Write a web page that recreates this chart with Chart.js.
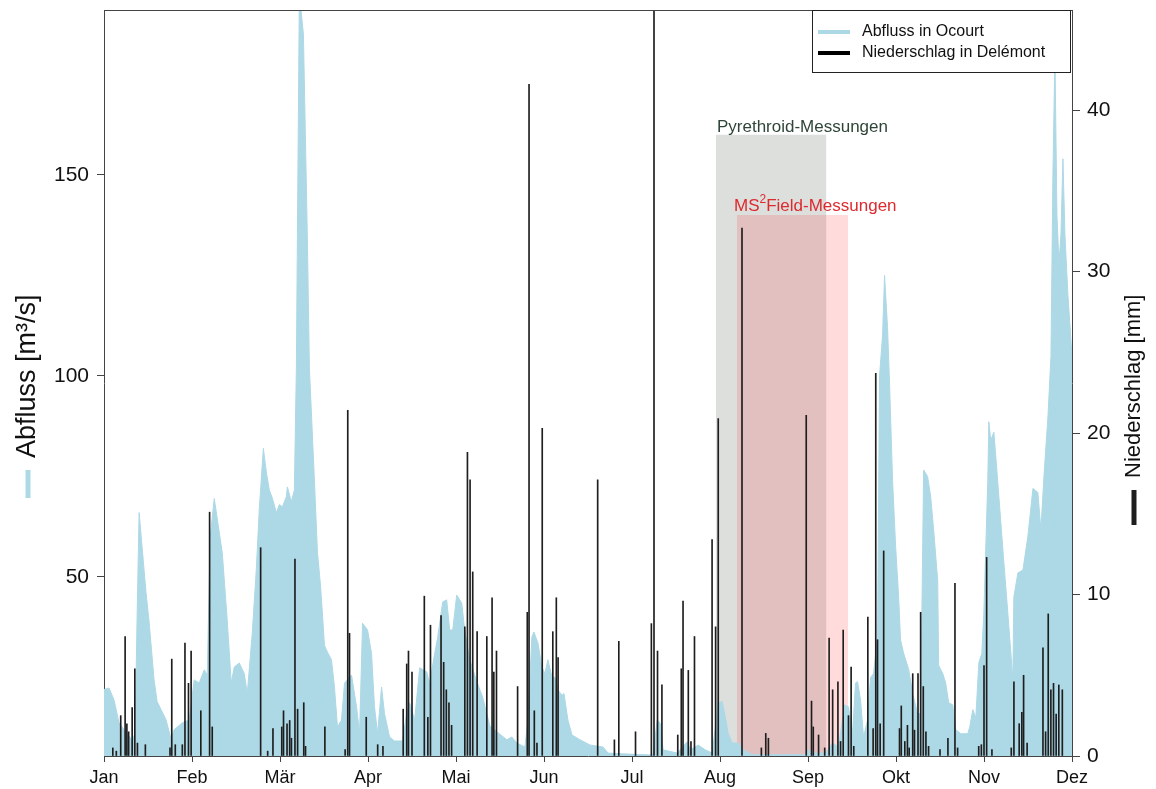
<!DOCTYPE html>
<html lang="de">
<head>
<meta charset="utf-8">
<title>Abfluss in Ocourt und Niederschlag in Delémont</title>
<script src="https://cdn.jsdelivr.net/npm/chart.js@4.4.1/dist/chart.umd.min.js"></script>
<style>
  html, body { margin: 0; padding: 0; background: #fff; }
  #wrap { width: 1156px; height: 789px; }
</style>
</head>
<body>
<div id="wrap"><canvas id="chart" width="1156" height="789"></canvas></div>
<script>
// x values are month positions (0 = 1. Jan, 11 = 1. Dez)
const monthLabels = ['Jan', 'Feb', 'Mär', 'Apr', 'Mai', 'Jun', 'Jul', 'Aug', 'Sep', 'Okt', 'Nov', 'Dez'];

// Abfluss in Ocourt [m3/s]
const flowX = [
  0.000, 0.057, 0.114, 0.171, 0.228, 0.319, 0.353, 0.376, 0.399, 0.478, 0.512, 0.569, 0.604, 0.649, 0.706, 0.763, 0.797, 0.888, 0.968,
  1.025, 1.082, 1.139, 1.173, 1.207, 1.253, 1.344, 1.401, 1.446, 1.480, 1.537, 1.594, 1.628, 1.685, 1.731, 1.765, 1.811, 1.845, 1.879, 1.913, 1.959, 1.993,
  2.027, 2.072, 2.084, 2.129, 2.163, 2.186, 2.197, 2.220, 2.266, 2.312, 2.334, 2.391, 2.426, 2.460, 2.482, 2.505, 2.539, 2.585, 2.619, 2.653, 2.699, 2.733, 2.813, 2.870, 2.904, 2.938, 2.995,
  3.040, 3.074, 3.109, 3.154, 3.188, 3.245, 3.302, 3.393, 3.439, 3.473, 3.530, 3.587, 3.667, 3.701, 3.758, 3.792, 3.849, 3.894, 3.928, 3.963,
  4.008, 4.065, 4.099, 4.156, 4.236, 4.304, 4.384, 4.464, 4.578, 4.634, 4.691, 4.783, 4.817, 4.862, 4.885, 4.931, 4.976,
  5.010, 5.044, 5.090, 5.124, 5.158, 5.204, 5.227, 5.272, 5.318, 5.409, 5.523, 5.671, 5.728, 5.898,
  6.240, 6.286, 6.320, 6.354, 6.513, 6.627, 6.662, 6.753, 6.832, 6.912, 6.980,
  7.025, 7.060, 7.094, 7.139, 7.208, 7.265, 7.367, 7.971,
  8.005, 8.062, 8.199, 8.278, 8.347, 8.415, 8.460, 8.506, 8.540, 8.563, 8.597, 8.631, 8.677, 8.711, 8.745, 8.790, 8.813, 8.847, 8.870, 8.904, 8.927, 8.961, 8.996,
  9.030, 9.052, 9.087, 9.144, 9.189, 9.246, 9.280, 9.314, 9.359, 9.394, 9.428, 9.474, 9.485, 9.531, 9.565, 9.599, 9.645, 9.679, 9.736, 9.815, 9.838, 9.873, 9.907, 9.941, 9.975, 9.998,
  10.043, 10.055, 10.077, 10.112, 10.134, 10.169, 10.226, 10.271, 10.328, 10.339, 10.385, 10.442, 10.498, 10.556, 10.612, 10.647, 10.681, 10.727, 10.761, 10.783, 10.806, 10.829, 10.852, 10.874, 10.897, 10.920, 10.954, 11.000
];
const flowY = [
  22, 22.4, 19.4, 13.7, 12, 9.5, 11, 40, 66, 46, 39, 24.4, 19, 17, 14.4, 9.5, 12, 13.7, 14.4,
  24.4, 23.6, 26.9, 25.6, 60, 69.5, 56, 39, 23.6, 27.6, 28.6, 26, 21, 36, 52, 67, 82, 76, 71.6, 69.6, 66, 68,
  67.4, 70, 72.4, 68.7, 71.6, 102, 133, 195, 185, 133, 102, 74, 56, 48, 41, 33, 31.3, 29.4, 22.6, 12.7, 14.4, 23.6, 25.6, 17.7, 11, 38.5, 36.8,
  31, 17.7, 11, 22.6, 16, 10.2, 9.2, 9.2, 16, 18.7, 14.4, 27.4, 26.4, 23.6, 31, 35, 43.8, 44.3, 36.8, 36.8,
  45.5, 43.5, 36.8, 29.4, 24, 20, 13, 11.5, 9.5, 10.2, 8.7, 7.7, 14.4, 35, 36.3, 33.6, 27.6,
  26, 29.4, 25.2, 25, 21.9, 20.6, 21, 14.4, 10.7, 9.5, 8.2, 7.7, 6.2, 6,
  5.7, 14.4, 13.7, 7, 6.2, 9, 7, 8.2, 7, 6.2, 18.7,
  19, 15.2, 11, 8.7, 8.7, 7, 5.8, 5.8,
  7, 6.2, 6.2, 8.7, 7.7, 18.2, 17.7, 11, 23.6, 24, 19.4, 10.2, 14.4, 25, 26, 35, 100, 110, 125, 112, 98, 74, 57.5,
  45, 34.3, 31, 27, 21, 16, 16, 76.6, 75, 70, 61.7, 49, 28, 26, 23.6, 18.7, 18.2, 12, 11, 11, 12.7, 17, 15, 28.6, 31, 41,
  74, 88.6, 84, 86, 80, 70, 53.5, 41, 24.4, 45, 51, 51.7, 60, 72, 71, 61.7, 75, 90, 105, 150, 180, 140, 128, 135, 154, 135, 120, 105
];

// Niederschlag in Delémont [mm]
const rainX = [
  0.10, 0.14, 0.19, 0.24, 0.26, 0.28, 0.32, 0.35, 0.38, 0.47, 0.75, 0.77, 0.81, 0.89, 0.92, 0.96, 0.99,
  1.10, 1.20, 1.23, 1.78, 1.86, 1.92,
  2.02, 2.04, 2.08, 2.11, 2.13, 2.17, 2.20, 2.27, 2.29, 2.51, 2.74, 2.77, 2.79, 2.98,
  3.11, 3.17, 3.40, 3.44, 3.46, 3.50, 3.64, 3.68, 3.71, 3.83, 3.86, 3.89, 3.92, 3.95,
  4.10, 4.13, 4.16, 4.19, 4.24, 4.35, 4.41, 4.43, 4.46, 4.70, 4.81, 4.83, 4.89, 4.92, 4.98,
  5.10, 5.14, 5.16, 5.61, 5.80, 5.85,
  6.04, 6.22, 6.25, 6.29, 6.34, 6.52, 6.56, 6.58, 6.64, 6.67, 6.71, 6.91, 6.95, 6.98,
  7.25, 7.47, 7.52, 7.55, 7.98,
  8.04, 8.06, 8.12, 8.19, 8.24, 8.28, 8.34, 8.37, 8.40, 8.46, 8.49, 8.52, 8.68, 8.74, 8.77, 8.79, 8.82, 8.86,
  9.04, 9.06, 9.10, 9.13, 9.15, 9.19, 9.21, 9.25, 9.28, 9.31, 9.34, 9.37, 9.50, 9.59, 9.67, 9.70, 9.94, 9.97,
  10.00, 10.03, 10.09, 10.31, 10.34, 10.40, 10.43, 10.45, 10.49, 10.67, 10.70, 10.73, 10.76, 10.79, 10.82, 10.85, 10.89
];
const rainY = [
  0.5, 0.3, 2.5, 7.4, 2.0, 1.5, 3.0, 5.4, 0.8, 0.7, 0.5, 6.0, 0.7, 0.7, 7.0, 4.5, 6.5,
  2.8, 15.1, 1.8, 12.9, 0.3, 1.7,
  1.8, 2.8, 2.0, 2.2, 1.1, 12.2, 2.9, 3.3, 0.6, 1.8, 0.4, 21.4, 7.6, 2.4,
  0.7, 0.6, 2.9, 5.7, 6.5, 5.2, 9.9, 2.4, 8.1, 8.7, 5.8, 4.1, 3.3, 1.9,
  8.0, 18.8, 17.1, 11.4, 7.7, 7.4, 9.8, 5.2, 6.5, 4.3, 8.9, 41.6, 2.8, 0.8, 20.3,
  7.7, 9.8, 6.1, 17.1, 1.0, 7.1,
  1.5, 8.2, 60, 6.5, 4.4, 1.3, 5.4, 9.6, 5.3, 0.9, 7.4, 13.4, 8.0, 20.9,
  32.7, 0.5, 1.4, 1.1, 21.1,
  3.4, 1.8, 1.3, 0.5, 7.3, 4.1, 4.6, 0.9, 7.8, 2.5, 5.5, 0.6, 8.6, 1.7, 23.7, 7.2, 2.0, 12.7,
  1.7, 3.1, 0.9, 1.9, 0.5, 5.1, 1.6, 5.1, 8.9, 4.3, 1.5, 0.6, 0.4, 1.1, 10.7, 0.5, 0.6, 0.7,
  5.6, 12.3, 0.4, 0.5, 4.6, 2.0, 2.7, 5.0, 0.8, 6.7, 1.5, 8.8, 4.1, 4.5, 2.6, 4.4, 4.1
];

// measurement campaigns: [start, end] in months, upper edge in m3/s
const pyrethroidRange = [6.954, 8.21];
const pyrethroidTop = 160;
const ms2Range = [7.193, 8.457];
const ms2Top = 140;

const flowTicks = [50, 100, 150];
const rainTicks = [0, 10, 20, 30, 40];
const flowMin = 5.47, flowMax = 191;
const rainMax = 46.2;

const FONT = '"Liberation Sans", Arial, sans-serif';
const flowColor = '#ADD8E6';
const rainColor = '#1e1e1e';
const axisColor = '#444';
const textColor = '#111';

const pairs = (xs, ys) => xs.map((x, i) => ({ x, y: ys[i] }));
const band = (range, top) => [{ x: range[0], y: top }, { x: range[1], y: top }];

// top line of the box (left/right/bottom come from the axes)
const frameTop = {
  id: 'frameTop',
  afterDatasetsDraw(chart) {
    const { ctx, chartArea } = chart;
    ctx.save();
    ctx.strokeStyle = axisColor;
    ctx.lineWidth = 1;
    ctx.beginPath();
    ctx.moveTo(chartArea.left, chartArea.top + 0.5);
    ctx.lineTo(chartArea.right, chartArea.top + 0.5);
    ctx.stroke();
    ctx.restore();
  }
};

// labels above the two shaded periods
const bandLabels = {
  id: 'bandLabels',
  afterDatasetsDraw(chart) {
    const { ctx } = chart;
    const xs = chart.scales.x, ys = chart.scales.y;
    ctx.save();
    ctx.textBaseline = 'alphabetic';
    ctx.textAlign = 'left';
    ctx.font = '17px ' + FONT;
    ctx.fillStyle = '#2f4538';
    ctx.fillText('Pyrethroid-Messungen', xs.getPixelForValue(pyrethroidRange[0]) + 1, ys.getPixelForValue(pyrethroidTop) - 2.5);

    let x = xs.getPixelForValue(ms2Range[0]) - 3;
    const y = ys.getPixelForValue(ms2Top) - 4;
    ctx.fillStyle = '#dd2a2f';
    ctx.fillText('MS', x, y);
    x += ctx.measureText('MS').width;
    ctx.font = '12px ' + FONT;
    ctx.fillText('2', x, y - 8);
    x += ctx.measureText('2').width;
    ctx.font = '17px ' + FONT;
    ctx.fillText('Field-Messungen', x, y);
    ctx.restore();
  }
};

// rotated axis titles with a small line key, reading bottom to top
function sideTitle(ctx, x, yStart, text, keyColor, size, keyLen) {
  ctx.save();
  ctx.translate(x, yStart);
  ctx.rotate(-Math.PI / 2);
  ctx.font = size + 'px ' + FONT;
  ctx.fillStyle = textColor;
  ctx.textBaseline = 'middle';
  ctx.textAlign = 'left';
  ctx.fillText(text, 0, 0);
  ctx.strokeStyle = keyColor;
  ctx.lineWidth = 5;
  ctx.beginPath();
  ctx.moveTo(-12, 0);
  ctx.lineTo(-12 - keyLen, 0);
  ctx.stroke();
  ctx.restore();
}

const axisTitles = {
  id: 'axisTitles',
  afterDraw(chart) {
    const { ctx, chartArea } = chart;
    const cy = (chartArea.top + chartArea.bottom) / 2;
    sideTitle(ctx, 28, cy + 75, 'Abfluss [m³/s]', flowColor, 27, 28);
    sideTitle(ctx, 1134, cy + 95, 'Niederschlag [mm]', rainColor, 22, 35);
  }
};

// legend box in the top right corner
const boxLegend = {
  id: 'boxLegend',
  afterDraw(chart) {
    const { ctx, chartArea } = chart;
    const items = chart.data.datasets.filter(d => d.keyColor);
    const w = 258, h = 62;
    const x = Math.round(chartArea.right - w - 2), y = Math.round(chartArea.top);
    ctx.save();
    ctx.fillStyle = '#fff';
    ctx.fillRect(x, y, w, h);
    ctx.strokeStyle = '#222';
    ctx.lineWidth = 1;
    ctx.strokeRect(x + 0.5, y + 0.5, w, h);
    ctx.font = '16px ' + FONT;
    ctx.textBaseline = 'middle';
    ctx.textAlign = 'left';
    items.forEach((d, i) => {
      const cy = y + 22 + i * 21;
      ctx.strokeStyle = d.keyColor;
      ctx.lineWidth = 4;
      ctx.beginPath();
      ctx.moveTo(x + 6, cy);
      ctx.lineTo(x + 38, cy);
      ctx.stroke();
      ctx.fillStyle = textColor;
      ctx.fillText(d.label, x + 50, cy);
    });
    ctx.restore();
  }
};

// keep the plot box exactly where the axes say, no label overhang padding
const noOverhang = s => { s.paddingTop = 0; s.paddingBottom = 0; };

const ctx = document.getElementById('chart').getContext('2d');
new Chart(ctx, {
  type: 'line',
  data: {
    datasets: [
      {
        label: 'Abfluss in Ocourt',
        keyColor: flowColor,
        data: pairs(flowX, flowY),
        yAxisID: 'y',
        borderColor: flowColor,
        borderWidth: 1,
        backgroundColor: flowColor,
        fill: 'start',
        pointRadius: 0,
        tension: 0,
        order: 2
      },
      {
        type: 'bar',
        label: 'Niederschlag in Delémont',
        keyColor: '#000',
        data: pairs(rainX, rainY),
        yAxisID: 'y2',
        backgroundColor: rainColor,
        borderWidth: 0,
        barThickness: 1,
        order: 1
      },
      {
        label: 'MS2Field-Messungen',
        data: band(ms2Range, ms2Top),
        yAxisID: 'y',
        borderColor: 'rgba(0,0,0,0)',
        borderWidth: 1,
        backgroundColor: 'rgba(255, 40, 50, 0.17)',
        fill: 'start',
        pointRadius: 0,
        order: 3
      },
      {
        label: 'Pyrethroid-Messungen',
        data: band(pyrethroidRange, pyrethroidTop),
        yAxisID: 'y',
        borderColor: 'rgba(0,0,0,0)',
        borderWidth: 1,
        backgroundColor: 'rgba(200, 204, 200, 0.62)',
        fill: 'start',
        pointRadius: 0,
        order: 4
      }
    ]
  },
  options: {
    responsive: false,
    devicePixelRatio: 1,
    animation: false,
    layout: { padding: { top: 10, left: 0, right: 0, bottom: 0 } },
    plugins: {
      legend: { display: false },
      tooltip: { enabled: false }
    },
    scales: {
      x: {
        type: 'linear',
        min: 0,
        max: 11,
        offset: false,
        grid: { display: true, offset: false, drawOnChartArea: false, tickLength: 6, tickColor: axisColor, color: axisColor },
        border: { display: true, color: axisColor },
        afterBuildTicks: s => { s.ticks = monthLabels.map((_, i) => ({ value: i })); },
        ticks: {
          autoSkip: false,
          maxRotation: 0,
          padding: 5,
          color: textColor,
          font: { family: FONT, size: 18 },
          callback: v => monthLabels[v]
        },
        afterFit: s => { s.height = 33; }
      },
      y: {
        type: 'linear',
        position: 'left',
        min: flowMin,
        max: flowMax,
        grid: { display: true, drawOnChartArea: false, tickLength: 7, tickColor: axisColor },
        border: { display: true, color: axisColor },
        afterBuildTicks: s => { s.ticks = flowTicks.map(v => ({ value: v })); },
        ticks: { padding: 8, color: textColor, font: { family: FONT, size: 21 } },
        afterFit: s => { s.width = 104; noOverhang(s); }
      },
      y2: {
        type: 'linear',
        position: 'right',
        min: 0,
        max: rainMax,
        grid: { display: true, drawOnChartArea: false, tickLength: 8, tickColor: axisColor },
        border: { display: true, color: axisColor },
        afterBuildTicks: s => { s.ticks = rainTicks.map(v => ({ value: v })); },
        ticks: { padding: 7, color: textColor, font: { family: FONT, size: 21 } },
        afterFit: s => { s.width = 84; noOverhang(s); }
      }
    }
  },
  plugins: [frameTop, bandLabels, axisTitles, boxLegend]
});
</script>
</body>
</html>
